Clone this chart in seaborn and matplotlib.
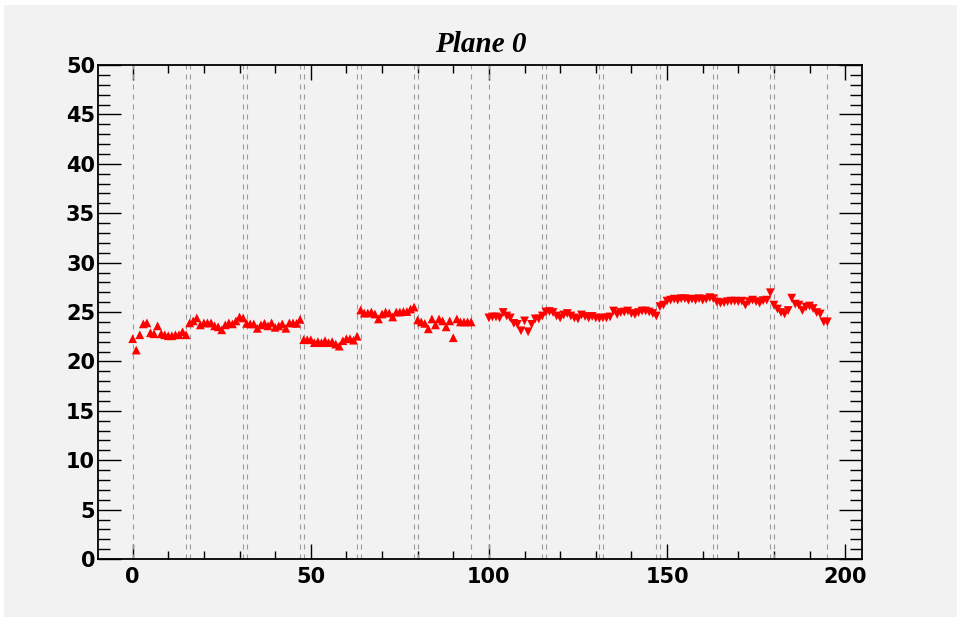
import numpy as np
import pandas as pd
import matplotlib
matplotlib.use('Agg')
import matplotlib.pyplot as plt
from matplotlib.patches import Rectangle
from matplotlib.ticker import MultipleLocator
import seaborn as sns

# channels 0-95 drawn with up triangles, 100-195 with down triangles
channels_up = list(range(0, 96))
channels_down = list(range(100, 196))

values_up = [
    22.3, 21.15, 22.7, 23.8, 23.9, 22.9, 22.8, 23.6, 22.8, 22.7, 22.6, 22.6, 22.7, 22.7, 23.0, 22.7,
    23.9, 24.1, 24.4, 23.7, 23.9, 23.9, 23.9, 23.6, 23.5, 23.2, 23.7, 23.9, 23.8, 24.1, 24.5, 24.4,
    23.85, 23.8, 23.8, 23.35, 23.7, 23.85, 23.6, 23.9, 23.45, 23.6, 23.8, 23.35, 23.9, 23.9, 23.85, 24.25,
    22.2, 22.2, 22.2, 21.9, 22.0, 21.9, 22.1, 21.9, 22.0, 21.75, 21.55, 22.1, 22.3, 22.3, 22.15, 22.55,
    25.2, 24.9, 24.9, 25.0, 24.8, 24.3, 24.8, 25.0, 24.9, 24.5, 25.0, 25.0, 25.05, 25.05, 25.3, 25.5,
    24.2, 24.0, 23.85, 23.3, 24.3, 23.7, 24.3, 24.1, 23.5, 24.1, 22.4, 24.3, 24.0, 24.0, 24.0, 24.0,
]
values_down = [
    24.4, 24.5, 24.5, 24.4, 24.95, 24.6, 24.4, 23.85, 23.75, 23.1, 24.1, 23.0, 23.75, 24.3, 24.3, 24.6,
    25.0, 25.05, 24.95, 24.6, 24.4, 24.7, 24.85, 24.6, 24.4, 24.3, 24.7, 24.55, 24.4, 24.55, 24.4, 24.35,
    24.4, 24.4, 24.5, 25.1, 24.75, 24.95, 25.0, 25.1, 24.85, 24.75, 24.95, 25.1, 25.1, 25.0, 24.85, 24.6,
    25.55, 25.7, 26.1, 26.2, 26.3, 26.2, 26.35, 26.35, 26.2, 26.3, 26.2, 26.35, 26.2, 26.3, 26.45, 26.35,
    26.0, 25.9, 25.95, 26.05, 26.1, 26.1, 26.05, 26.1, 25.7, 26.05, 26.2, 26.05, 25.9, 26.15, 26.2, 26.95,
    25.7, 25.3, 24.95, 24.8, 25.15, 26.4, 25.8, 25.7, 25.15, 25.5, 25.6, 25.35, 24.95, 24.8, 24.0, 24.0,
]

# group boundaries (dashed lines)
boundaries = [0, 15, 16, 31, 32, 47, 48, 63, 64, 79, 80, 95,
              100, 115, 116, 131, 132, 147, 148, 163, 164, 179, 180, 195]

df = pd.DataFrame({
    'channel': channels_up + channels_down,
    'value': values_up + values_down,
    'side': ['up'] * len(channels_up) + ['down'] * len(channels_down),
})

sns.set_style('ticks')
plt.rcParams['font.family'] = ['DejaVu Sans']
plt.rcParams['text.color'] = 'black'

bg = '#f2f2f2'
fig = plt.figure(figsize=(9.6, 6.21), dpi=100, facecolor='white')
fig.patches.append(Rectangle((0.004, 0.006), 0.993, 0.986, transform=fig.transFigure,
                             facecolor=bg, edgecolor='none', zorder=-10))
ax = fig.add_axes([0.102, 0.0998, 0.796, 0.7955])
ax.set_facecolor(bg)

for b in boundaries:
    ax.axvline(b, color='#9a9a9a', lw=0.8, dashes=(4.5, 4.5), zorder=1)

sns.scatterplot(data=df, x='channel', y='value', style='side',
                markers={'up': '^', 'down': 'v'}, color='red',
                s=40, linewidth=0, legend=False, ax=ax, zorder=3)

ax.set_xlim(-9.75, 204.75)
ax.set_ylim(0, 50)
ax.xaxis.set_major_locator(MultipleLocator(50))
ax.xaxis.set_minor_locator(MultipleLocator(10))
ax.yaxis.set_major_locator(MultipleLocator(5))
ax.yaxis.set_minor_locator(MultipleLocator(1))
ax.set_xlabel('')
ax.set_ylabel('')

ax.tick_params(axis='both', which='both', direction='in', top=True, right=True,
               color='black', labelcolor='black', width=1.0)
ax.tick_params(axis='x', which='major', length=10.8, pad=5.5)
ax.tick_params(axis='x', which='minor', length=5.6)
ax.tick_params(axis='y', which='major', length=16.5, pad=2)
ax.tick_params(axis='y', which='minor', length=8.3)
for lab in ax.get_xticklabels() + ax.get_yticklabels():
    lab.set_fontsize(15)
    lab.set_fontweight('bold')

for sp in ax.spines.values():
    sp.set_visible(True)
    sp.set_color('black')
    sp.set_linewidth(1.3)

fig.text(0.501, 0.929, 'Plane 0', ha='center', va='center', fontsize=21,
         family='Liberation Serif', fontweight='bold', fontstyle='italic', color='black')

plt.savefig('out.png', dpi=100, facecolor='white')
